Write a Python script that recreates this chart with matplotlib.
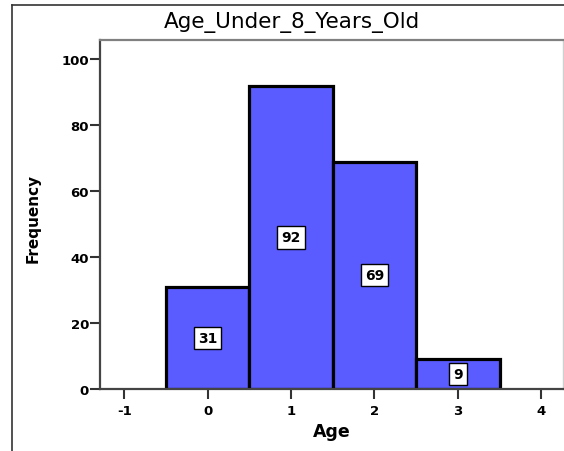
"""Histogram of ages for children under 8, SPSS style."""

import matplotlib
matplotlib.use("Agg")
import matplotlib.pyplot as plt
from matplotlib.lines import Line2D

# data
ages = [0, 1, 2, 3]
counts = [31, 92, 69, 9]
x_ticks = [-1, 0, 1, 2, 3, 4]
y_ticks = [0, 20, 40, 60, 80, 100]

title = "Age_Under_8_Years_Old"
x_label = "Age"
y_label = "Frequency"

BAR_COLOR = "#5b5cff"


def plot_histogram(save_location="out.png"):
    plt.rcParams["font.family"] = "DejaVu Sans"
    plt.rcParams["axes.unicode_minus"] = False
    fig = plt.figure(figsize=(5.64, 4.52), dpi=100)
    W, H = 564, 452

    # outer chart frame (left and top visible)
    fig.add_artist(Line2D([12 / W, 12 / W], [0, 1 - 6 / H], transform=fig.transFigure,
                          color="#333333", lw=1.2))
    fig.add_artist(Line2D([12 / W, 1], [1 - 6 / H, 1 - 6 / H], transform=fig.transFigure,
                          color="#333333", lw=1.2))

    ax = fig.add_axes([100 / W, 1 - 390 / H, (563 - 100) / W, (390 - 41) / H])
    ax.bar(ages, counts, width=1.0, color=BAR_COLOR, edgecolor="black", linewidth=2.3,
           zorder=2)
    for a, c in zip(ages, counts):
        ax.text(a, c / 2, str(c), ha="center", va="center", fontsize=10, fontweight="bold",
                zorder=3,
                bbox=dict(boxstyle="square,pad=0.3", facecolor="white", edgecolor="black",
                          linewidth=1.0))

    ax.set_xlim(-1.29, 4.26)
    ax.set_ylim(0, 105.9)
    ax.set_xticks(x_ticks)
    ax.set_yticks(y_ticks)
    ax.tick_params(axis="both", direction="out", length=7, width=1.5, color="#333333",
                   labelsize=9.5)
    ax.tick_params(axis="y", pad=1)
    ax.tick_params(axis="x", pad=4)
    for lbl in ax.get_xticklabels() + ax.get_yticklabels():
        lbl.set_fontweight("bold")

    ax.spines["left"].set_color("#444444")
    ax.spines["left"].set_linewidth(1.6)
    ax.spines["bottom"].set_color("#444444")
    ax.spines["bottom"].set_linewidth(1.6)
    ax.spines["top"].set_color("#808080")
    ax.spines["top"].set_linewidth(1.6)
    ax.spines["right"].set_color("#d0d0d0")
    ax.spines["right"].set_linewidth(1.0)

    fig.text(291.5 / W, 1 - 28 / H, title, ha="center", va="baseline", fontsize=15.5)
    fig.text(33 / W, 1 - 218 / H, y_label, rotation=90, ha="center", va="center",
             fontsize=11, fontweight="bold")
    fig.text(332 / W, 1 - 437 / H, x_label, ha="center", va="baseline",
             fontsize=12.5, fontweight="bold")

    fig.savefig(save_location, dpi=100)


if __name__ == "__main__":
    plot_histogram()
